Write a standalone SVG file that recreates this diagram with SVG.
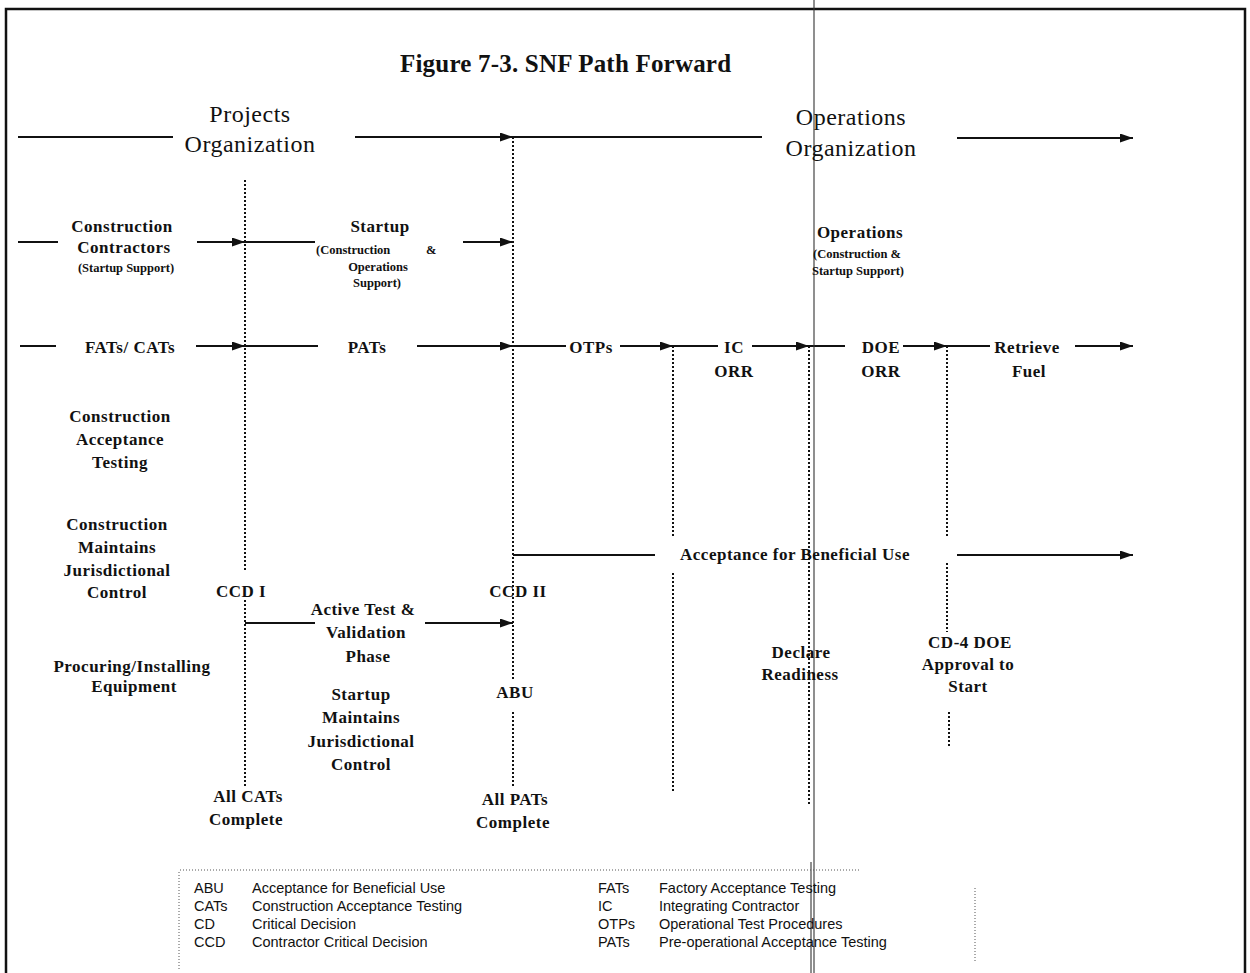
<svg xmlns="http://www.w3.org/2000/svg" width="1250" height="973" viewBox="0 0 1250 973">
  <style>
    .frame { stroke: #111; stroke-width: 2.5; fill: none; }
    .ln { stroke: #111; stroke-width: 1.8; fill: none; }
    .arr { stroke: #111; stroke-width: 1.8; fill: none; marker-end: url(#ah); }
    .dot { stroke: #111; stroke-width: 2; fill: none; stroke-dasharray: 2 2; }
    .thin { stroke: #333; stroke-width: 1.1; fill: none; }
    .leg { stroke: #555; stroke-width: 1; fill: none; stroke-dasharray: 1 2; }
    .title { font-family: "Liberation Serif", serif; font-weight: bold; font-size: 25px; fill: #111; letter-spacing: 0.2px; }
    .org { font-family: "Liberation Serif", serif; font-size: 24px; fill: #111; text-anchor: middle; letter-spacing: 0.5px; }
    .lb { font-family: "Liberation Serif", serif; font-weight: bold; font-size: 17px; fill: #111; text-anchor: middle; letter-spacing: 0.5px; }
    .sm { font-family: "Liberation Serif", serif; font-weight: bold; font-size: 12.5px; fill: #111; text-anchor: middle; }
    .sm-l { font-family: "Liberation Serif", serif; font-weight: bold; font-size: 12.5px; fill: #111; text-anchor: start; }
    .lg { font-family: "Liberation Sans", Arial, sans-serif; font-size: 14.5px; fill: #111; }
  </style>
  <defs>
    <marker id="ah" markerWidth="13" markerHeight="9" refX="13" refY="4.5" orient="auto" markerUnits="userSpaceOnUse">
      <path d="M0,0 L13,4.5 L0,9 z" fill="#111"/>
    </marker>
  </defs>

  <rect width="1250" height="973" fill="#fff"/>

  <!-- outer frame (open at the bottom) -->
  <g id="frame">
    <path class="frame" d="M6,973 L6,9 L1245,9 L1245,973"/>
  </g>

  <text class="title" x="400" y="72">Figure 7-3.  SNF Path Forward</text>

  <!-- connectors -->
  <g id="connectors">
    <!-- organisation band -->
    <line class="ln" x1="18" y1="137" x2="173" y2="137"/>
    <line class="arr" x1="355" y1="137" x2="513" y2="137"/>
    <line class="ln" x1="513" y1="137" x2="762" y2="137"/>
    <line class="arr" x1="957" y1="138" x2="1133" y2="138"/>

    <!-- contractors / startup band -->
    <line class="ln" x1="18" y1="242" x2="58" y2="242"/>
    <line class="arr" x1="197" y1="242" x2="245" y2="242"/>
    <line class="ln" x1="245" y1="242" x2="315" y2="242"/>
    <line class="arr" x1="463" y1="242" x2="513" y2="242"/>

    <!-- test sequence band -->
    <line class="ln" x1="20" y1="346" x2="56" y2="346"/>
    <line class="arr" x1="196" y1="346" x2="245" y2="346"/>
    <line class="ln" x1="245" y1="346" x2="318" y2="346"/>
    <line class="arr" x1="417" y1="346" x2="513" y2="346"/>
    <line class="ln" x1="513" y1="346" x2="566" y2="346"/>
    <line class="arr" x1="620" y1="346" x2="673" y2="346"/>
    <line class="ln" x1="673" y1="346" x2="718" y2="346"/>
    <line class="arr" x1="752" y1="346" x2="809" y2="346"/>
    <line class="ln" x1="809" y1="346" x2="845" y2="346"/>
    <line class="arr" x1="903" y1="346" x2="947" y2="346"/>
    <line class="ln" x1="947" y1="346" x2="990" y2="346"/>
    <line class="arr" x1="1075" y1="346" x2="1133" y2="346"/>

    <!-- beneficial use band -->
    <line class="ln" x1="513" y1="555" x2="655" y2="555"/>
    <line class="arr" x1="957" y1="555" x2="1133" y2="555"/>

    <!-- active test band -->
    <line class="ln" x1="245" y1="623" x2="315" y2="623"/>
    <line class="arr" x1="425" y1="623" x2="513" y2="623"/>

    <!-- milestone markers -->
    <line class="dot" x1="245" y1="180" x2="245" y2="572"/>
    <line class="dot" x1="245" y1="600" x2="245" y2="787"/>
    <line class="dot" x1="513" y1="137" x2="513" y2="680"/>
    <line class="dot" x1="513" y1="712" x2="513" y2="787"/>
    <line class="dot" x1="673" y1="346" x2="673" y2="537"/>
    <line class="dot" x1="673" y1="573" x2="673" y2="793"/>
    <line class="dot" x1="809" y1="346" x2="809" y2="805"/>
    <line class="dot" x1="947" y1="346" x2="947" y2="537"/>
    <line class="dot" x1="947" y1="563" x2="947" y2="632"/>
    <line class="dot" x1="949" y1="712" x2="949" y2="748"/>

    <!-- organisation boundary -->
    <line class="thin" x1="814" y1="0" x2="814" y2="973"/>
    <line class="thin" x1="811" y1="862" x2="811" y2="973"/>
  </g>

  <g id="projects-org">
    <text class="org" x="250" y="122">Projects</text>
    <text class="org" x="250" y="152">Organization</text>
  </g>
  <g id="operations-org">
    <text class="org" x="851" y="125">Operations</text>
    <text class="org" x="851" y="156">Organization</text>
  </g>

  <g id="construction-contractors">
    <text class="lb" x="122" y="232">Construction</text>
    <text class="lb" x="124" y="253">Contractors</text>
    <text class="sm" x="126" y="272">(Startup Support)</text>
  </g>
  <g id="startup">
    <text class="lb" x="380" y="232">Startup</text>
    <text class="sm-l" x="316" y="254">(Construction</text>
    <text class="sm-l" x="426" y="254">&amp;</text>
    <text class="sm" x="378" y="271">Operations</text>
    <text class="sm" x="377" y="287">Support)</text>
  </g>
  <g id="operations">
    <text class="lb" x="860" y="238">Operations</text>
    <text class="sm" x="857" y="258">(Construction &amp;</text>
    <text class="sm" x="858" y="275">Startup Support)</text>
  </g>

  <g id="fats-cats"><text class="lb" x="130" y="353">FATs/ CATs</text></g>
  <g id="pats"><text class="lb" x="367" y="353">PATs</text></g>
  <g id="otps"><text class="lb" x="591" y="353">OTPs</text></g>
  <g id="ic-orr">
    <text class="lb" x="734" y="353">IC</text>
    <text class="lb" x="734" y="377">ORR</text>
  </g>
  <g id="doe-orr">
    <text class="lb" x="881" y="353">DOE</text>
    <text class="lb" x="881" y="377">ORR</text>
  </g>
  <g id="retrieve-fuel">
    <text class="lb" x="1027" y="353">Retrieve</text>
    <text class="lb" x="1029" y="377">Fuel</text>
  </g>

  <g id="construction-acceptance">
    <text class="lb" x="120" y="422">Construction</text>
    <text class="lb" x="120" y="445">Acceptance</text>
    <text class="lb" x="120" y="468">Testing</text>
  </g>
  <g id="construction-jurisdiction">
    <text class="lb" x="117" y="530">Construction</text>
    <text class="lb" x="117" y="553">Maintains</text>
    <text class="lb" x="117" y="576">Jurisdictional</text>
    <text class="lb" x="117" y="598">Control</text>
  </g>
  <g id="ccd-1"><text class="lb" x="241" y="597">CCD  I</text></g>
  <g id="ccd-2"><text class="lb" x="518" y="597">CCD II</text></g>

  <g id="beneficial-use"><text class="lb" x="795" y="560">Acceptance for Beneficial Use</text></g>

  <g id="active-test">
    <text class="lb" x="363" y="615">Active Test &amp;</text>
    <text class="lb" x="366" y="638">Validation</text>
    <text class="lb" x="368" y="662">Phase</text>
  </g>
  <g id="procuring">
    <text class="lb" x="132" y="672">Procuring/Installing</text>
    <text class="lb" x="134" y="692">Equipment</text>
  </g>
  <g id="startup-jurisdiction">
    <text class="lb" x="361" y="700">Startup</text>
    <text class="lb" x="361" y="723">Maintains</text>
    <text class="lb" x="361" y="747">Jurisdictional</text>
    <text class="lb" x="361" y="770">Control</text>
  </g>
  <g id="abu"><text class="lb" x="515" y="698">ABU</text></g>

  <g id="declare-readiness">
    <text class="lb" x="801" y="658">Declare</text>
    <text class="lb" x="800" y="680">Readiness</text>
  </g>
  <g id="cd4">
    <text class="lb" x="970" y="648">CD-4 DOE</text>
    <text class="lb" x="968" y="670">Approval to</text>
    <text class="lb" x="968" y="692">Start</text>
  </g>

  <g id="all-cats">
    <text class="lb" x="248" y="802">All  CATs</text>
    <text class="lb" x="246" y="825">Complete</text>
  </g>
  <g id="all-pats">
    <text class="lb" x="515" y="805">All  PATs</text>
    <text class="lb" x="513" y="828">Complete</text>
  </g>

  <!-- abbreviation key -->
  <g id="legend">
    <path class="leg" d="M180,870 L860,870"/>
    <path class="leg" d="M179,872 L179,970"/>
    <path class="leg" d="M975,888 L975,962"/>
    <text class="lg" x="194" y="893">ABU</text>
    <text class="lg" x="252" y="893">Acceptance for Beneficial Use</text>
    <text class="lg" x="194" y="911">CATs</text>
    <text class="lg" x="252" y="911">Construction Acceptance Testing</text>
    <text class="lg" x="194" y="929">CD</text>
    <text class="lg" x="252" y="929">Critical Decision</text>
    <text class="lg" x="194" y="947">CCD</text>
    <text class="lg" x="252" y="947">Contractor Critical Decision</text>
    <text class="lg" x="598" y="893">FATs</text>
    <text class="lg" x="659" y="893">Factory Acceptance Testing</text>
    <text class="lg" x="598" y="911">IC</text>
    <text class="lg" x="659" y="911">Integrating Contractor</text>
    <text class="lg" x="598" y="929">OTPs</text>
    <text class="lg" x="659" y="929">Operational Test Procedures</text>
    <text class="lg" x="598" y="947">PATs</text>
    <text class="lg" x="659" y="947">Pre-operational Acceptance Testing</text>
  </g>
</svg>
